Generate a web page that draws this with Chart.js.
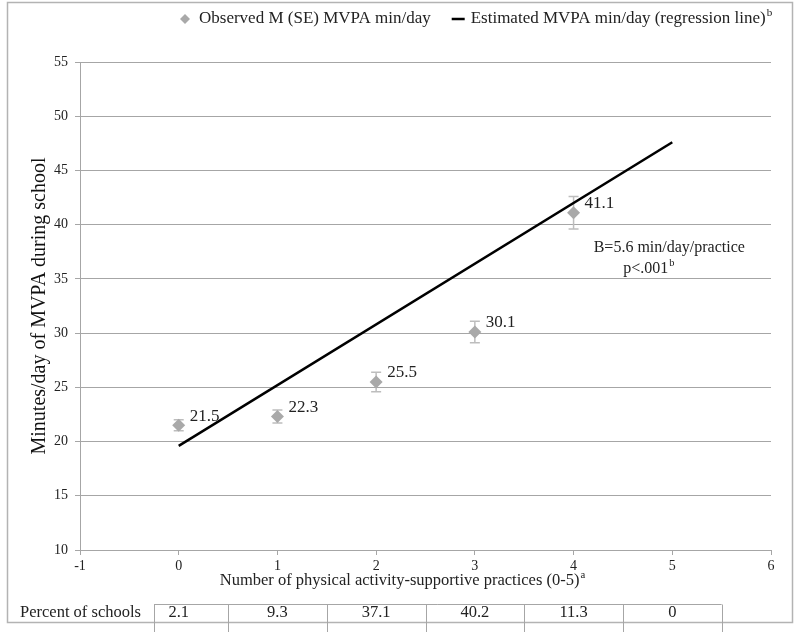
<!DOCTYPE html>
<html>
<head>
<meta charset="utf-8">
<script src="https://cdn.jsdelivr.net/npm/chart.js@4.4.1/dist/chart.umd.min.js"></script>
<style>
  html, body { margin: 0; padding: 0; background: #fff; }
  #wrap { width: 800px; height: 632px; }
</style>
</head>
<body>
<div id="wrap"><canvas id="chart"></canvas></div>
<script>
// observed means (with SE) per number of practices
const practices = [0, 1, 2, 3, 4];
const observedMean = [21.5, 22.3, 25.5, 30.1, 41.1];
const observedSE = [0.5, 0.6, 0.9, 1.0, 1.5];

// regression line end points
const regressionX = [0, 5];
const regressionY = [19.6, 47.6];

// table under the x axis
const tableColumns = [0, 1, 2, 3, 4, 5];
const percentOfSchools = ["2.1", "9.3", "37.1", "40.2", "11.3", "0"];
const tableDividers = [-0.25, 0.5, 1.5, 2.5, 3.5, 4.5, 5.5];

const xMin = -1, xMax = 6, xStep = 1;
const yMin = 10, yMax = 55, yStep = 5;

const serif = "'Liberation Serif', 'Times New Roman', serif";
const GRID = "#a6a6a6";
const TEXT = "#222";
const MARK = "#a9a9a9";

function font(size) {
  return size + "px " + serif;
}

// text with a small raised letter after it, x is the centre or the left edge
function drawSup(ctx, text, sup, x, y, size, align) {
  ctx.font = font(size);
  const w1 = ctx.measureText(text).width;
  ctx.font = font(size * 0.65);
  const w2 = ctx.measureText(sup).width;
  const left = align === "center" ? x - (w1 + w2) / 2 : x;
  ctx.textAlign = "left";
  ctx.textBaseline = "middle";
  ctx.font = font(size);
  ctx.fillText(text, left, y);
  ctx.font = font(size * 0.65);
  ctx.fillText(sup, left + w1 + 1, y - size * 0.35);
  return w1 + w2 + 1;
}

const extras = {
  id: "extras",
  beforeDraw(chart) {
    const ctx = chart.ctx;
    ctx.save();
    ctx.strokeStyle = "#b3b3b3";
    ctx.lineWidth = 1.5;
    ctx.strokeRect(7.5, 2.5, 785, 620);
    ctx.restore();
  },
  beforeDatasetsDraw(chart) {
    // error bars
    const ctx = chart.ctx;
    const xs = chart.scales.x, ys = chart.scales.y;
    ctx.save();
    ctx.strokeStyle = "#bdbdbd";
    ctx.lineWidth = 1.5;
    practices.forEach((p, i) => {
      const px = xs.getPixelForValue(p);
      const top = ys.getPixelForValue(observedMean[i] + observedSE[i]);
      const bot = ys.getPixelForValue(observedMean[i] - observedSE[i]);
      ctx.beginPath();
      ctx.moveTo(px, top); ctx.lineTo(px, bot);
      ctx.moveTo(px - 5, top); ctx.lineTo(px + 5, top);
      ctx.moveTo(px - 5, bot); ctx.lineTo(px + 5, bot);
      ctx.stroke();
    });
    ctx.restore();
  },
  afterDraw(chart) {
    const ctx = chart.ctx;
    const xs = chart.scales.x, ys = chart.scales.y;
    ctx.save();
    ctx.fillStyle = TEXT;

    // value labels
    ctx.font = font(17);
    ctx.textAlign = "left";
    ctx.textBaseline = "middle";
    practices.forEach((p, i) => {
      ctx.fillText(observedMean[i].toFixed(1), xs.getPixelForValue(p) + 11, ys.getPixelForValue(observedMean[i]) - 9);
    });

    // regression note
    ctx.textAlign = "center";
    ctx.font = font(16);
    ctx.fillText("B=5.6 min/day/practice", xs.getPixelForValue(5) - 3, ys.getPixelForValue(37.85));
    drawSup(ctx, "p<.001", "b", xs.getPixelForValue(5) - 24, ys.getPixelForValue(35.9), 16, "center");

    // legend
    const ly = 19;
    let lx = 180;
    ctx.fillStyle = MARK;
    ctx.beginPath();
    ctx.moveTo(lx + 5, ly - 5); ctx.lineTo(lx + 10, ly); ctx.lineTo(lx + 5, ly + 5); ctx.lineTo(lx, ly);
    ctx.closePath();
    ctx.fill();
    ctx.fillStyle = TEXT;
    ctx.font = font(17);
    ctx.textAlign = "left";
    ctx.fillText("Observed M (SE) MVPA min/day", lx + 19, ly);
    lx += 19 + ctx.measureText("Observed M (SE) MVPA min/day").width + 21;
    ctx.strokeStyle = "#000";
    ctx.lineWidth = 2.5;
    ctx.beginPath();
    ctx.moveTo(lx, ly); ctx.lineTo(lx + 13, ly);
    ctx.stroke();
    drawSup(ctx, "Estimated MVPA min/day (regression line)", "b", lx + 19, ly, 17, "left");

    // x axis title
    drawSup(ctx, "Number of physical activity-supportive practices (0-5)", "a", 402, 581, 16.5, "center");

    // percent of schools table
    ctx.strokeStyle = GRID;
    ctx.lineWidth = 1;
    const tTop = 604.5;
    ctx.beginPath();
    ctx.moveTo(xs.getPixelForValue(tableDividers[0]), tTop);
    ctx.lineTo(xs.getPixelForValue(tableDividers[tableDividers.length - 1]), tTop);
    tableDividers.forEach(d => {
      const px = Math.round(xs.getPixelForValue(d)) + 0.5;
      ctx.moveTo(px, tTop);
      ctx.lineTo(px, 632);
    });
    ctx.stroke();
    ctx.font = font(16.5);
    ctx.textAlign = "left";
    ctx.fillText("Percent of schools", 20, 613);
    ctx.textAlign = "center";
    tableColumns.forEach((c, i) => {
      ctx.fillText(percentOfSchools[i], xs.getPixelForValue(c), 613);
    });
    ctx.restore();
  }
};

new Chart(document.getElementById("chart"), {
  type: "scatter",
  data: {
    datasets: [
      {
        label: "Estimated MVPA min/day (regression line)",
        type: "line",
        data: regressionX.map((x, i) => ({ x: x, y: regressionY[i] })),
        borderColor: "#000",
        borderWidth: 2.5,
        pointRadius: 0,
        fill: false
      },
      {
        label: "Observed M (SE) MVPA min/day",
        data: practices.map((x, i) => ({ x: x, y: observedMean[i] })),
        pointStyle: "rectRot",
        pointRadius: 6.5,
        pointHoverRadius: 6.5,
        backgroundColor: MARK,
        borderColor: MARK,
        borderWidth: 0
      }
    ]
  },
  options: {
    responsive: true,
    maintainAspectRatio: false,
    animation: false,
    layout: { padding: { top: 62, right: 29, bottom: 38, left: 0 } },
    plugins: {
      legend: { display: false },
      tooltip: { enabled: false }
    },
    scales: {
      x: {
        type: "linear",
        min: xMin,
        max: xMax,
        ticks: { stepSize: xStep, padding: 3, color: TEXT, font: { family: serif, size: 14 } },
        grid: { drawOnChartArea: false, tickLength: 5, color: GRID },
        border: { color: GRID },
        afterFit(scale) { scale.height = 44; }
      },
      y: {
        min: yMin,
        max: yMax,
        ticks: { stepSize: yStep, padding: 7, color: TEXT, font: { family: serif, size: 14 } },
        grid: { tickLength: 5, color: GRID },
        border: { color: GRID },
        title: {
          display: true,
          text: "Minutes/day of MVPA during school",
          color: "#111",
          font: { family: serif, size: 20 },
          padding: { top: 28, bottom: 0 }
        },
        afterFit(scale) { scale.width = 80; }
      }
    }
  },
  plugins: [extras]
});
</script>
</body>
</html>
